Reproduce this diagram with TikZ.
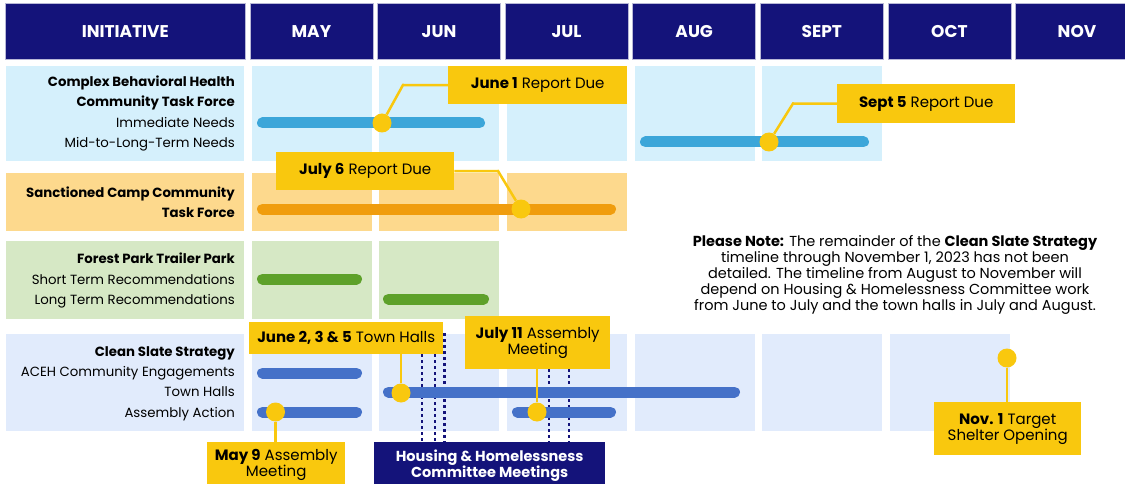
\documentclass[tikz,border=0pt]{standalone}
\usepackage{fontspec}
\setmainfont{Poppins}
\usetikzlibrary{positioning}
\definecolor{navy}{HTML}{14137A}
\definecolor{gold}{HTML}{F9C80E}
\definecolor{skyrow}{HTML}{D5F0FC}
\definecolor{skybar}{HTML}{3CA6D9}
\definecolor{camprow}{HTML}{FDD98D}
\definecolor{campbar}{HTML}{F09D0E}
\definecolor{parkrow}{HTML}{D6E8C5}
\definecolor{parkbar}{HTML}{5EA12A}
\definecolor{slaterow}{HTML}{E1EBFC}
\definecolor{slatebar}{HTML}{4571C8}
\begin{document}
\begin{tikzpicture}[x=1pt,y=-1pt,
  hdr/.style={fill=navy,draw=navy!30,line width=0.6pt,text=white,font=\bfseries\fontsize{17}{17}\selectfont,minimum width=123pt,minimum height=56pt,inner sep=0pt},
  cell/.style={anchor=north west,minimum width=120pt,inner sep=0pt},
  lbl/.style={anchor=east,align=right,inner sep=0pt,font=\fontsize{13.3}{20.2}\selectfont},
  bar/.style={line width=11pt,line cap=round},
  pin/.style={circle,fill=gold,minimum size=19pt,inner sep=0pt},
  due/.style={fill=gold,align=center,inner sep=0pt,font=\fontsize{15}{16}\selectfont},
  lead/.style={gold,line width=2.5pt},
  meet/.style={navy,line width=2.5pt,dash pattern=on 2.5pt off 3.5pt}]
\useasboundingbox[fill=white] (0,0) rectangle (1125,484);
\node[hdr,anchor=north west,minimum width=240pt] (init) at (5,3) {INITIATIVE};
\node[hdr,right=4pt of init] (may) {MAY};
\node[hdr,right=4pt of may] (jun) {JUN};
\node[hdr,right=4pt of jun] (jul) {JUL};
\node[hdr,right=4pt of jul] (aug) {AUG};
\node[hdr,right=4pt of aug] (sept) {SEPT};
\node[hdr,right=4pt of sept] (oct) {OCT};
\node[hdr,right=4pt of oct] (nov) {NOV};

\node[cell,fill=skyrow,minimum width=238pt,minimum height=95pt] (r1init) at ([xshift=1pt,yshift=-6pt]init.south west) {};
\foreach \m in {may,jun,jul,aug,sept}
  \node[cell,fill=skyrow,minimum height=95pt] (r1\m) at ([xshift=2pt,yshift=-6pt]\m.south west) {};
\node[cell,fill=camprow,minimum width=238pt,minimum height=58pt] (r2init) at ([xshift=1pt,yshift=-113pt]init.south west) {};
\foreach \m in {may,jun,jul}
  \node[cell,fill=camprow,minimum height=58pt] (r2\m) at ([xshift=2pt,yshift=-113pt]\m.south west) {};
\node[cell,fill=parkrow,minimum width=238pt,minimum height=78pt] (r3init) at ([xshift=1pt,yshift=-181pt]init.south west) {};
\foreach \m in {may,jun}
  \node[cell,fill=parkrow,minimum height=78pt] (r3\m) at ([xshift=2pt,yshift=-181pt]\m.south west) {};
\node[cell,fill=slaterow,minimum width=238pt,minimum height=97pt] (r4init) at ([xshift=1pt,yshift=-274pt]init.south west) {};
\foreach \m in {may,jun,jul,aug,sept,oct}
  \node[cell,fill=slaterow,minimum height=97pt] (r4\m) at ([xshift=2pt,yshift=-274pt]\m.south west) {};

\node[lbl] (cbh) at (235,113.5) {\textbf{Complex Behavioral Health}\\\textbf{Community Task Force}\\Immediate Needs\\Mid-to-Long-Term Needs};
\node[lbl] (camp) at (235,202) {\textbf{Sanctioned Camp Community}\\\textbf{Task Force}};
\node[lbl] (park) at (235,280.5) {\textbf{Forest Park Trailer Park}\\Short Term Recommendations\\Long Term Recommendations};
\node[lbl] (slate) at (235,383.5) {\textbf{Clean Slate Strategy}\\ACEH Community Engagements\\Town Halls\\Assembly Action};

\node[align=center,inner sep=0pt,font=\fontsize{14.5}{16}\selectfont] (note) at (895,275) {\textbf{Please Note:} The remainder of the \textbf{Clean Slate Strategy}\\timeline through November 1, 2023 has not been\\detailed. The timeline from August to November will\\depend on Housing \& Homelessness Committee work\\from June to July and the town halls in July and August.};

\node[due,anchor=north west,minimum width=179pt,minimum height=38pt] (jun1) at (448,66) {\textbf{June 1} Report Due};
\node[due,anchor=north west,minimum width=178pt,minimum height=39pt] (sep5) at (837,84) {\textbf{Sept 5} Report Due};
\node[due,anchor=north west,minimum width=178pt,minimum height=38pt] (jul6) at (276,152) {\textbf{July 6} Report Due};
\node[due,anchor=north west,minimum width=194pt,minimum height=32pt] (halls) at (249,322) {\textbf{June 2, 3 \& 5} Town Halls};
\node[due,anchor=north west,minimum width=145pt,minimum height=53pt] (jul11) at (465,316) {\textbf{July 11} Assembly\\Meeting};
\node[due,anchor=north west,minimum width=138pt,minimum height=46pt] (may9) at (207,442) {\textbf{May 9} Assembly\\Meeting};
\node[due,anchor=north west,minimum width=147pt,minimum height=53pt] (nov1) at (934,402) {\textbf{Nov. 1} Target\\Shelter Opening};
\node[due,fill=navy,text=white,anchor=north west,minimum width=231pt,minimum height=46pt,font=\bfseries\fontsize{14.5}{16}\selectfont] (hhc) at (374,442) {Housing \& Homelessness\\Committee Meetings};

\coordinate (m1) at (422,333);
\coordinate (m2) at (435,333);
\coordinate (m3) at (444.5,333);
\coordinate (m4) at (549,333);
\coordinate (m5) at (569,333);
\draw[meet] (m1 |- halls.south) -- (m1 |- hhc.north);
\draw[meet] (m2 |- halls.south) -- (m2 |- hhc.north);
\draw[meet] (m3) -- (m3 |- hhc.north);
\draw[meet] (m4 |- jul11.south) -- (m4 |- hhc.north);
\draw[meet] (m5 |- jul11.south) -- (m5 |- hhc.north);

\draw[bar,skybar] (262.5,123) -- (479.5,123);
\draw[bar,skybar] (645.5,142) -- (863.5,142);
\draw[bar,campbar] (262.5,209) -- (610.5,209);
\draw[bar,parkbar] (262.5,279) -- (356.5,279);
\draw[bar,parkbar] (388.5,299) -- (483.5,299);
\draw[bar,slatebar] (262.5,373) -- (356.5,373);
\draw[bar,slatebar] (388.5,392) -- (734.5,392);
\draw[bar,slatebar] (262.5,412) -- (356.5,412);
\draw[bar,slatebar] (517.5,412) -- (610.5,412);

\node[pin] (p1) at (382,123) {};
\node[pin] (p2) at (769,142) {};
\node[pin] (p3) at (521,209) {};
\node[pin] (p4) at (401,393) {};
\node[pin] (p5) at (537,412) {};
\node[pin] (p6) at (275.5,412) {};
\node[pin] (p7) at (1007,358) {};

\draw[lead] (p1) -- (403,85) -- (jun1);
\draw[lead] (p2) -- (793,103.5) -- (sep5);
\draw[lead] (jul6) -- (498,171) -- (p3);
\draw[lead] (p4) -- (p4 |- halls.south);
\draw[lead] (p5) -- (p5 |- jul11.south);
\draw[lead] (p6) -- (p6 |- may9.north);
\draw[lead] (p7) -- (p7 |- nov1.north);
\end{tikzpicture}
\end{document}
